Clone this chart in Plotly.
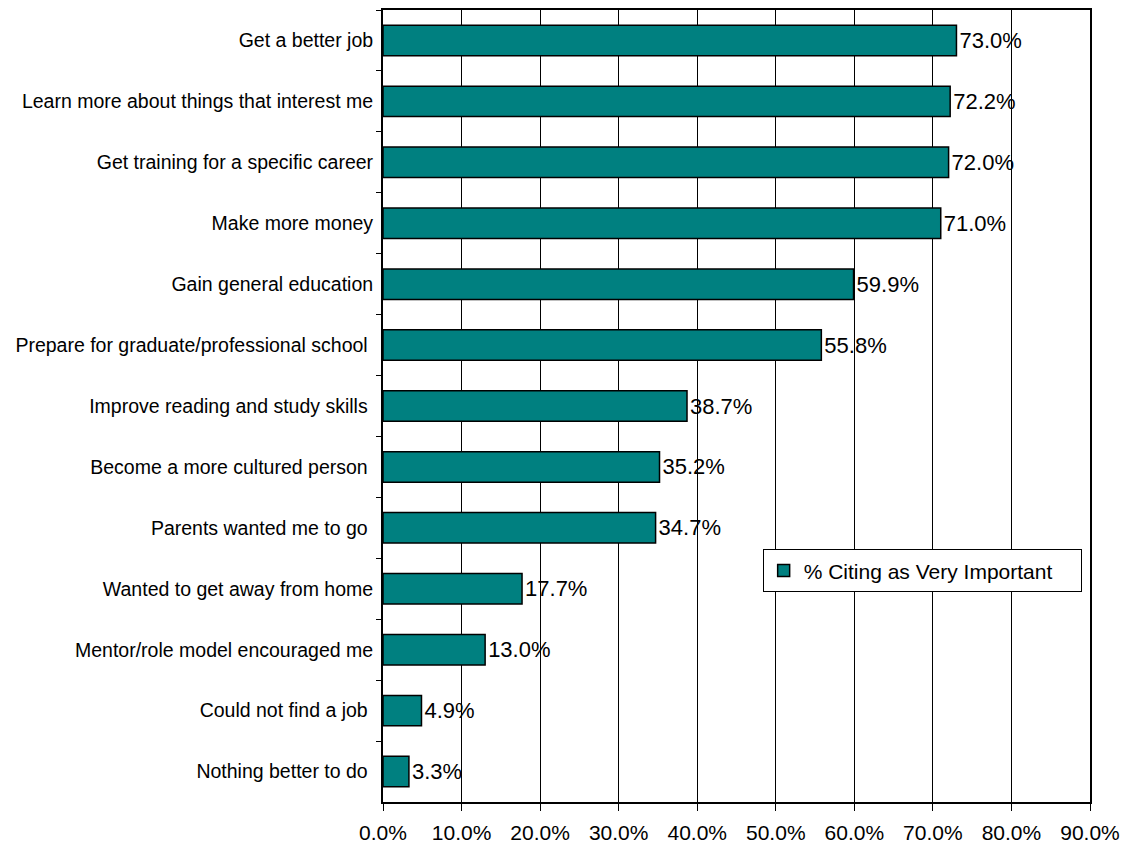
import plotly.graph_objects as go

categories = [
    "Get a better job",
    "Learn more about things that interest me",
    "Get training for a specific career",
    "Make more money",
    "Gain general education",
    "Prepare for graduate/professional school\u00a0",
    "Improve reading and study skills\u00a0",
    "Become a more cultured person\u00a0",
    "Parents wanted me to go\u00a0",
    "Wanted to get away from home",
    "Mentor/role model encouraged me",
    "Could not find a job\u00a0",
    "Nothing better to do\u00a0",
]
values = [73.0, 72.2, 72.0, 71.0, 59.9, 55.8, 38.7, 35.2, 34.7, 17.7, 13.0, 4.9, 3.3]
x_ticks = [0, 10, 20, 30, 40, 50, 60, 70, 80, 90]
series_name = "% Citing as Very Important"

fig = go.Figure()
fig.add_trace(go.Bar(
    y=categories, x=values, orientation="h",
    # trailing spaces widen the legend box like the original
    name=series_name + "\u00a0" * 4,
    marker=dict(color="#008080", line=dict(color="black", width=1.5)),
    text=[f"{v:.1f}%" for v in values],
    textposition="outside",
    textfont=dict(size=22, color="black"),
    cliponaxis=False,
))

fig.update_layout(
    width=1125, height=846,
    margin=dict(l=375, r=43, t=0, b=52),
    paper_bgcolor="white",
    plot_bgcolor="white",
    font=dict(family="Liberation Sans, Arial, sans-serif", color="black"),
    bargap=0.5,
    showlegend=True,
    legend=dict(
        x=0.537, y=0.319, xanchor="left", yanchor="top",
        bordercolor="black", borderwidth=1, bgcolor="white",
        font=dict(size=21), itemwidth=30,
    ),
    xaxis=dict(
        range=[0, 90], tickvals=x_ticks,
        ticktext=[f"{t:.1f}%" for t in x_ticks],
        tickfont=dict(size=21),
        showgrid=True, gridcolor="black", gridwidth=1,
        zeroline=False,
        showline=True, linecolor="black", linewidth=2, mirror=True,
        ticks="outside", ticklen=7, tickcolor="black",
        ticklabelstandoff=4,
    ),
    yaxis=dict(
        autorange="reversed",
        tickfont=dict(size=19.5),
        showline=True, linecolor="black", linewidth=2, mirror=True,
        ticks="outside", ticklen=5, tickcolor="black",
        tickson="boundaries",
        ticklabelstandoff=4,
        showgrid=False,
    ),
)

fig.write_html("out.html")
